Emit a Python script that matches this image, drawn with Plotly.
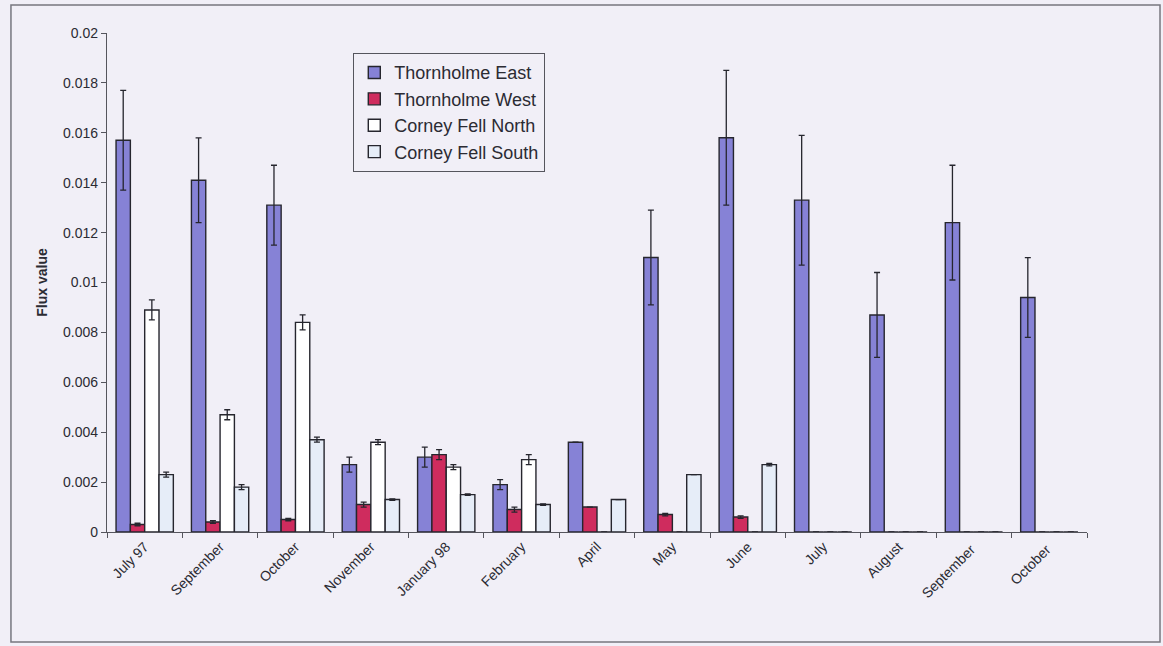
import plotly.graph_objects as go

months = ["July 97", "September", "October", "November", "January 98", "February",
          "April", "May", "June", "July", "August", "September ", "October "]

east = [0.0157, 0.0141, 0.0131, 0.0027, 0.0030, 0.0019, 0.0036, 0.0110, 0.0158, 0.0133, 0.0087, 0.0124, 0.0094]
east_err = [0.0020, 0.0017, 0.0016, 0.0003, 0.0004, 0.0002, 0.0, 0.0019, 0.0027, 0.0026, 0.0017, 0.0023, 0.0016]

west = [0.0003, 0.0004, 0.0005, 0.0011, 0.0031, 0.0009, 0.0010, 0.0007, 0.0006, 0.0, 0.0, 0.0, 0.0]
west_err = [0.00005, 0.00005, 0.00005, 0.0001, 0.0002, 0.0001, 0.0, 0.00005, 0.00005, 0.0, 0.0, 0.0, 0.0]

north = [0.0089, 0.0047, 0.0084, 0.0036, 0.0026, 0.0029, 0.0, 0.0, 0.0, 0.0, 0.0, 0.0, 0.0]
north_err = [0.0004, 0.0002, 0.0003, 0.0001, 0.0001, 0.0002, 0, 0, 0, 0, 0, 0, 0]

south = [0.0023, 0.0018, 0.0037, 0.0013, 0.0015, 0.0011, 0.0013, 0.0023, 0.0027, 0.0, 0.0, 0.0, 0.0]
south_err = [0.0001, 0.0001, 0.0001, 0.00003, 0.00003, 0.00003, 0.0, 0.0, 0.00005, 0, 0, 0, 0]

y_ticks = [0, 0.002, 0.004, 0.006, 0.008, 0.01, 0.012, 0.014, 0.016, 0.018, 0.02]
y_tick_text = ["0", "0.002", "0.004", "0.006", "0.008", "0.01", "0.012", "0.014", "0.016", "0.018", "0.02"]

series = [
    ("Thornholme East", east, east_err, "#8682d6"),
    ("Thornholme West", west, west_err, "#cf2c5e"),
    ("Corney Fell North", north, north_err, "#ffffff"),
    ("Corney Fell South", south, south_err, "#e6edf8"),
]

fig = go.Figure()
for name, vals, errs, col in series:
    fig.add_trace(go.Bar(
        name=name, x=months, y=vals,
        marker=dict(color=col, line=dict(color="#26262e", width=1.4)),
        error_y=dict(type="data", array=errs, visible=True, color="#26262e", thickness=1.3, width=3),
    ))

bg = "#f1eff7"
fig.update_layout(
    width=1163, height=646,
    paper_bgcolor=bg, plot_bgcolor=bg,
    barmode="group", bargap=0.24, bargroupgap=0.0,
    margin=dict(l=107, r=76, t=33, b=114),
    font=dict(family="Arial, Liberation Sans, sans-serif", color="#2b2b33"),
    legend=dict(
        x=0.251, y=0.96, xanchor="left", yanchor="top",
        bgcolor="rgba(0,0,0,0)", bordercolor="#55555d", borderwidth=1.3,
        font=dict(size=18, color="#2b2b33"), tracegroupgap=0, itemwidth=30,
    ),
    xaxis=dict(
        showline=True, linecolor="#55555d", linewidth=1.3,
        ticks="outside", ticklen=5, tickcolor="#55555d", tickson="boundaries",
        tickangle=-45, tickfont=dict(size=14, color="#2b2b33"),
        showgrid=False, zeroline=False,
    ),
    yaxis=dict(
        range=[0, 0.02], tickvals=y_ticks, ticktext=y_tick_text,
        showline=True, linecolor="#55555d", linewidth=1.3,
        ticks="outside", ticklen=5, tickcolor="#55555d",
        tickfont=dict(size=14, color="#2b2b33"),
        showgrid=False, zeroline=False,
        title=dict(text="<b>Flux value</b>", font=dict(size=14, color="#2b2b33"), standoff=12),
    ),
    shapes=[dict(type="rect", xref="paper", yref="paper",
                 x0=-0.098, x1=1.0745, y0=-0.2204, y1=1.056,
                 line=dict(color="#77777f", width=1.5))],
)

fig.write_html("out.html", config={"displayModeBar": False},
               post_script="document.body.style.margin='0';document.body.style.overflow='hidden';document.body.style.background='#f1eff7';")
